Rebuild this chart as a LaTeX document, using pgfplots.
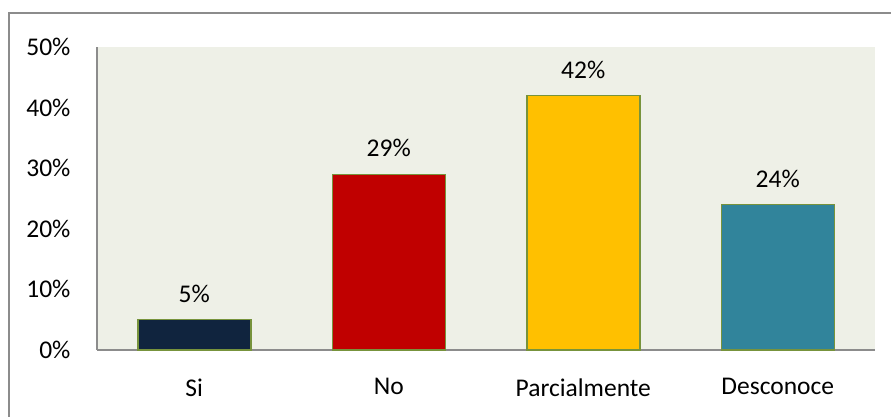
\documentclass[border=0pt]{standalone}
\usepackage{pgfplots}
\pgfplotsset{compat=1.18}
\usepackage{fontspec}
\setmainfont{Carlito}
\definecolor{bgplot}{HTML}{EEF0E7}
\definecolor{axgray}{HTML}{8C8C8C}
\definecolor{olive}{HTML}{77933C}
\definecolor{cSi}{HTML}{10243E}
\definecolor{cNo}{HTML}{C00000}
\definecolor{cPa}{HTML}{FFC000}
\definecolor{cDe}{HTML}{31849B}
\begin{document}
\begin{tikzpicture}[x=1pt,y=1pt]
\useasboundingbox (0,0) rectangle (891,417);
\fill[white] (0,0) rectangle (891,417);
\draw[axgray, line width=1.5pt] (9,0) -- (9,404) -- (891,404);
\begin{axis}[
  at={(97pt,67pt)}, anchor=south west,
  scale only axis, width=778pt, height=303pt,
  xmin=-0.5, xmax=3.5, ymin=0, ymax=50,
  axis background/.style={fill=bgplot},
  axis x line*=bottom, axis y line*=left,
  axis line style={draw=axgray, line width=1.6pt, -},
  xtick={0,1,2,3},
  xticklabels={Si,No,Parcialmente,Desconoce},
  ytick={0,10,20,30,40,50},
  yticklabels={0\%,10\%,20\%,30\%,40\%,50\%},
  major tick length=0pt,
  tick label style={font=\fontsize{25.5}{27}\selectfont, text=black},
  yticklabel style={xshift=-23pt},
  xticklabel style={yshift=-25pt},
  /pgf/number format/assume math mode=true,
  ybar, bar width=113pt, bar shift=0pt,
  nodes near coords={\pgfmathprintnumber{\pgfplotspointmeta}\%},
  nodes near coords style={font=\fontsize{25.5}{27}\selectfont, text=black, yshift=13pt},
  clip=false,
]
\addplot[draw=olive, line width=1.5pt, fill=cSi] coordinates {(0,5)};
\addplot[draw=olive, line width=1.5pt, fill=cNo] coordinates {(1,29)};
\addplot[draw=olive, line width=1.5pt, fill=cPa] coordinates {(2,42)};
\addplot[draw=olive, line width=1.5pt, fill=cDe] coordinates {(3,24)};
\end{axis}
\end{tikzpicture}
\end{document}
